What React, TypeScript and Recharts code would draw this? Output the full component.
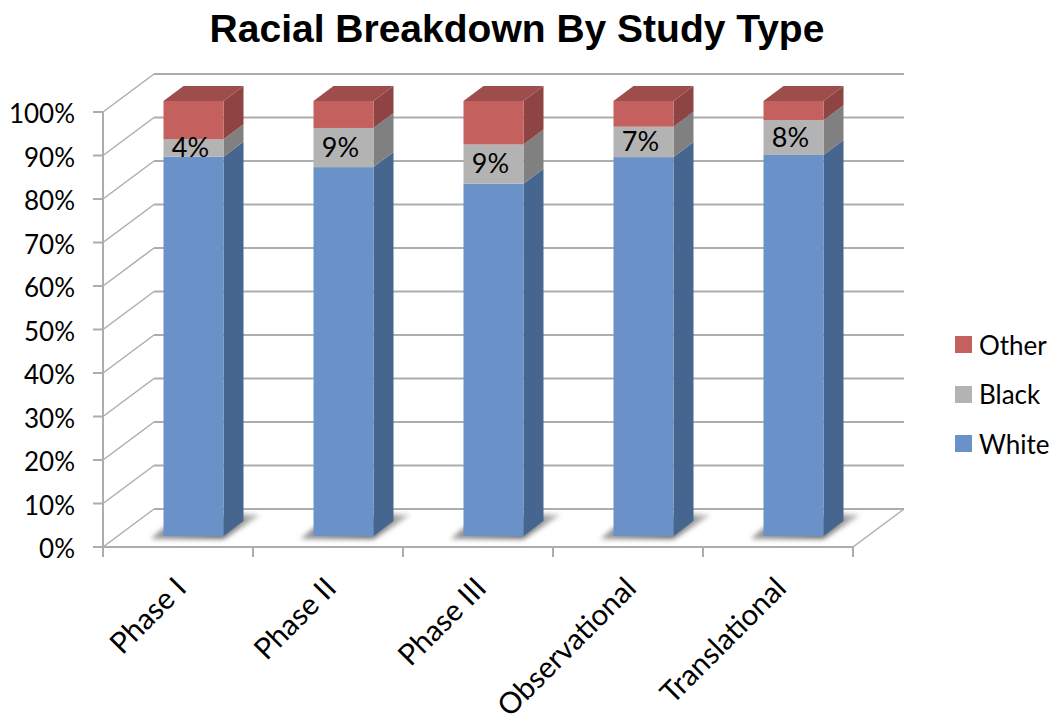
import { BarChart, Bar, XAxis, YAxis, Legend, LabelList, CartesianGrid } from 'recharts';

const CATEGORIES = ['Phase I', 'Phase II', 'Phase III', 'Observational', 'Translational'];
const WHITE = [87.2, 84.8, 81, 87.1, 87.6];
const BLACK = [4, 9, 9, 7, 8];
const OTHER = [8.8, 6.2, 10, 5.9, 4.4];
const Y_TICKS = [0, 10, 20, 30, 40, 50, 60, 70, 80, 90, 100];

const data = CATEGORIES.map((name, i) => ({
  name,
  White: WHITE[i],
  Black: BLACK[i],
  Other: OTHER[i],
}));

const LEGEND_ORDER = ['Other', 'Black', 'White'];
const FONT = 'Lato, sans-serif';
const GRID = '#adadad';
const CATEGORY_WIDTH = 150;
const FLOOR_Y = 547;

// depth of the fake 3D box
const WALL_DX = 51;
const WALL_DY = 38;
// bars stand a bit behind the front plane
const BAR_DX = 15.5;
const BAR_DY = 11;
const SIDE_DX = 20;
const SIDE_DY = 15;

const WHITE_FACE = { front: '#6a92c8', side: '#47668f', top: '#56769f' };
const BLACK_FACE = { front: '#b3b3b3', side: '#808080', top: '#8f8f8f' };
const OTHER_FACE = { front: '#c4615f', side: '#8d4443', top: '#9c4d4c' };

function poly(points: number[][]) {
  return points.map((p) => p.join(',')).join(' ');
}

function makeBarShape(face: typeof WHITE_FACE, withTop: boolean, withShadow: boolean) {
  return function BarShape(props: any) {
    const { x, y, width, height } = props;
    const left = x + BAR_DX;
    const right = left + width;
    const top = y - BAR_DY;
    const bottom = top + height;
    return (
      <g>
        {withShadow && (
          <polygon
            points={poly([
              [left - 13, bottom + 3],
              [right, bottom + 3],
              [right + 37, bottom - 21],
              [right + 10, bottom - 22],
              [left, bottom - 8],
            ])}
            fill="url(#shadowFade)"
            filter="url(#floorShadow)"
          />
        )}
        <polygon
          points={poly([
            [right, top],
            [right + SIDE_DX, top - SIDE_DY],
            [right + SIDE_DX, bottom - SIDE_DY],
            [right, bottom],
          ])}
          fill={face.side}
        />
        {withTop && (
          <polygon
            points={poly([
              [left, top],
              [left + SIDE_DX, top - SIDE_DY],
              [right + SIDE_DX, top - SIDE_DY],
              [right, top],
            ])}
            fill={face.top}
          />
        )}
        <rect x={left} y={top} width={width} height={height} fill={face.front} />
      </g>
    );
  };
}

// one gridline: diagonal up the side wall, then across the back wall
function WallLine(props: any) {
  const { x1, x2, y1 } = props;
  const isFloor = Math.abs(y1 - FLOOR_Y) < 1;
  return (
    <g>
      <line x1={x1} y1={y1} x2={x1 + WALL_DX} y2={y1 - WALL_DY} stroke={GRID} strokeWidth={1.5} />
      <line
        x1={x1 + WALL_DX}
        y1={y1 - WALL_DY}
        x2={x2 + WALL_DX}
        y2={y1 - WALL_DY}
        stroke={GRID}
        strokeWidth={2}
      />
      {isFloor && (
        <line x1={x2} y1={y1} x2={x2 + WALL_DX} y2={y1 - WALL_DY} stroke={GRID} strokeWidth={1.5} />
      )}
    </g>
  );
}

function YTick(props: any) {
  const { x, y, payload } = props;
  return (
    <g>
      <line x1={x - 10} y1={y} x2={x} y2={y} stroke={GRID} strokeWidth={2} />
      <text x={x - 28} y={y + 11} textAnchor="end" fontFamily={FONT} fontSize={26} fill="#000">
        {payload.value}%
      </text>
    </g>
  );
}

function XTick(props: any) {
  const { x, y, index, payload } = props;
  const half = CATEGORY_WIDTH / 2;
  const labelX = x + 10;
  const labelY = y + 43;
  return (
    <g>
      <line x1={x - half} y1={y} x2={x - half} y2={y + 10} stroke={GRID} strokeWidth={2} />
      {index === CATEGORIES.length - 1 && (
        <line x1={x + half} y1={y} x2={x + half} y2={y + 10} stroke={GRID} strokeWidth={2} />
      )}
      <text
        x={labelX}
        y={labelY}
        textAnchor="end"
        fontFamily={FONT}
        fontSize={29.5}
        fill="#000"
        transform={`rotate(-45 ${labelX} ${labelY})`}
      >
        {payload.value}
      </text>
    </g>
  );
}

function PercentLabel(props: any) {
  const { x, y, width, height, value } = props;
  return (
    <text
      x={x + BAR_DX + width / 2 - 3}
      y={y - BAR_DY + height / 2 + 9}
      textAnchor="middle"
      fontFamily={FONT}
      fontSize={27}
      fill="#000"
    >
      {value}%
    </text>
  );
}

function LegendBox(props: any) {
  const items = [...(props.payload ?? [])].sort(
    (a: any, b: any) => LEGEND_ORDER.indexOf(a.value) - LEGEND_ORDER.indexOf(b.value),
  );
  return (
    <div style={{ fontFamily: FONT, fontSize: 26, color: '#000' }}>
      {items.map((item: any) => (
        <div key={item.value} style={{ display: 'flex', alignItems: 'center', height: 49.5 }}>
          <span
            style={{ width: 17, height: 17, background: item.color, marginRight: 7, display: 'block' }}
          />
          {item.value}
        </div>
      ))}
    </div>
  );
}

export default function App() {
  return (
    <div style={{ position: 'absolute', left: 0, top: 0, width: 1050, height: 723, background: '#fff' }}>
      <div
        style={{
          position: 'absolute',
          left: 0,
          top: 6,
          width: 1034,
          textAlign: 'center',
          fontFamily: '"Liberation Sans", sans-serif',
          fontWeight: 700,
          fontSize: 39,
          lineHeight: '46px',
          color: '#000',
        }}
      >
        Racial Breakdown By Study Type
      </div>
      <BarChart
        width={1050}
        height={723}
        data={data}
        margin={{ top: 112, right: 102, bottom: 76, left: 3 }}
        barSize={60}
      >
        <defs>
          <filter id="floorShadow" x="-30%" y="-60%" width="160%" height="220%">
            <feGaussianBlur stdDeviation="2.5" />
          </filter>
          <linearGradient id="shadowFade" x1="0" y1="0" x2="1" y2="0">
            <stop offset="0" stopColor="#9a9a9a" />
            <stop offset="0.65" stopColor="#6e6e6e" />
            <stop offset="1" stopColor="#c8c8c8" />
          </linearGradient>
        </defs>
        <CartesianGrid vertical={false} horizontal={WallLine} />
        <YAxis
          type="number"
          domain={[0, 100]}
          ticks={Y_TICKS}
          width={100}
          interval={0}
          tick={YTick}
          tickLine={false}
          tickSize={0}
          tickMargin={0}
          axisLine={{ stroke: GRID, strokeWidth: 2 }}
        />
        <XAxis
          dataKey="name"
          height={100}
          interval={0}
          tick={XTick}
          tickLine={false}
          tickSize={0}
          tickMargin={0}
          axisLine={{ stroke: GRID, strokeWidth: 2 }}
        />
        <Legend
          layout="vertical"
          align="right"
          verticalAlign="top"
          wrapperStyle={{ left: 955, top: 320, width: 95 }}
          content={LegendBox}
        />
        <Bar
          dataKey="White"
          stackId="race"
          fill={WHITE_FACE.front}
          isAnimationActive={false}
          shape={makeBarShape(WHITE_FACE, false, true)}
        />
        <Bar
          dataKey="Black"
          stackId="race"
          fill={BLACK_FACE.front}
          isAnimationActive={false}
          shape={makeBarShape(BLACK_FACE, false, false)}
        >
          <LabelList dataKey="Black" content={PercentLabel} />
        </Bar>
        <Bar
          dataKey="Other"
          stackId="race"
          fill={OTHER_FACE.front}
          isAnimationActive={false}
          shape={makeBarShape(OTHER_FACE, true, false)}
        />
      </BarChart>
    </div>
  );
}
